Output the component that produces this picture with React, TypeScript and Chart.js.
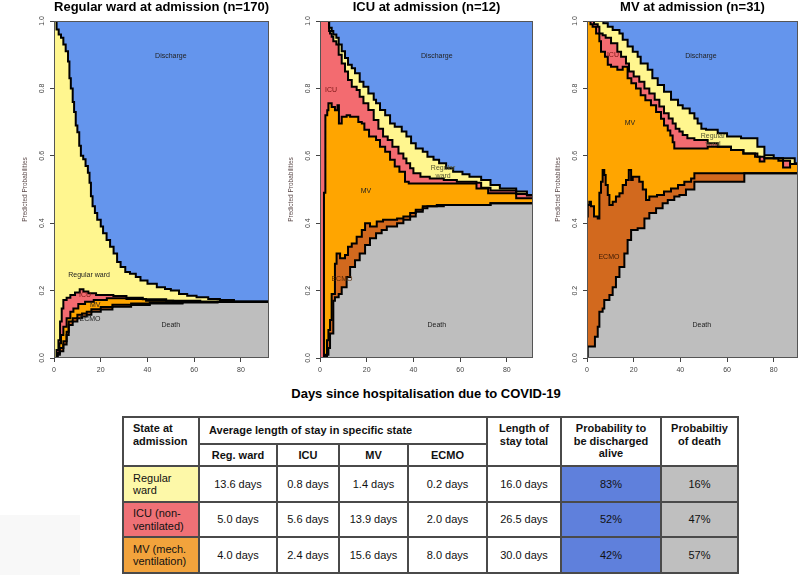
import React, { useEffect, useRef } from "react";
import { Chart, registerables } from "chart.js";
Chart.register(...registerables);

const FONT = '"Liberation Sans", Arial, Helvetica, sans-serif';

// ---------- Panel 1: Regular ward at admission ----------
const wardAdm_deathT = [0, 1.5, 2.5, 4, 5.4, 6.3, 8, 10, 12, 14, 16, 20, 25, 33, 41, 55, 70, 92];
const wardAdm_deathP = [0, 0.01, 0.02, 0.04, 0.068, 0.098, 0.108, 0.118, 0.123, 0.128, 0.137, 0.144, 0.152, 0.157, 0.162, 0.165, 0.166, 0.166];
const wardAdm_ecmoT = [0, 1.5, 2.5, 4, 5.4, 6.3, 8, 10, 12, 14, 16, 20, 25, 33, 41, 55, 70, 92];
const wardAdm_ecmoP = [0, 0.015, 0.03, 0.05, 0.078, 0.108, 0.118, 0.128, 0.132, 0.137, 0.145, 0.151, 0.158, 0.162, 0.165, 0.166, 0.167, 0.167];
const wardAdm_mvT = [0, 1.4, 2.3, 3, 4, 5.4, 7, 8.3, 10.4, 13.3, 17, 22.6, 31, 39.4, 51, 92];
const wardAdm_mvP = [0, 0.014, 0.044, 0.068, 0.093, 0.118, 0.137, 0.147, 0.16, 0.167, 0.172, 0.177, 0.175, 0.17, 0.167, 0.167];
const wardAdm_icuT = [0, 1.1, 1.9, 2.6, 3.3, 4, 5.4, 7, 9, 11, 12.6, 14.7, 18, 25.4, 31, 38, 48, 62.6, 92];
const wardAdm_icuP = [0, 0.024, 0.053, 0.108, 0.147, 0.172, 0.179, 0.187, 0.194, 0.204, 0.197, 0.192, 0.187, 0.184, 0.179, 0.174, 0.17, 0.167, 0.167];
const wardAdm_wardT = [0, 1.1, 2, 3, 4, 5, 6, 6.6, 7.2, 8, 8.6, 9.3, 10, 10.8, 11.5, 12.5, 13.5, 14.5, 15.2, 15.8, 16.5, 17.5, 18.5, 20, 21, 22.5, 24, 25.5, 27, 28.5, 30.5, 32.5, 35, 37, 40, 44, 47.5, 50, 53.5, 57, 61, 66, 71, 77, 92];
const wardAdm_wardP = [1, 0.975, 0.96, 0.95, 0.93, 0.91, 0.88, 0.83, 0.8, 0.76, 0.73, 0.69, 0.67, 0.63, 0.6, 0.59, 0.57, 0.55, 0.52, 0.48, 0.45, 0.43, 0.41, 0.39, 0.37, 0.35, 0.33, 0.31, 0.285, 0.27, 0.255, 0.25, 0.24, 0.23, 0.22, 0.21, 0.205, 0.2, 0.19, 0.185, 0.18, 0.175, 0.172, 0.167, 0.167];

// ---------- Panel 2: ICU at admission ----------
const icuAdm_deathT = [0, 3, 3.6, 4.3, 5.7, 6.4, 8, 9.3, 11.4, 12.9, 15, 17, 19.3, 21.4, 24, 26.4, 28.6, 33, 35.7, 38.6, 41, 44, 46, 53, 73, 92];
const icuAdm_deathP = [0, 0.01, 0.03, 0.073, 0.17, 0.18, 0.19, 0.21, 0.24, 0.27, 0.29, 0.31, 0.335, 0.355, 0.37, 0.38, 0.39, 0.4, 0.41, 0.42, 0.434, 0.444, 0.45, 0.454, 0.459, 0.459];
const icuAdm_ecmoT = [0, 2.1, 3, 3.6, 4.3, 5, 6.4, 7.1, 8.6, 10.7, 12, 13.6, 15.7, 17.9, 19.3, 21.4, 24.3, 27, 33, 35.7, 38.6, 41, 44, 50, 73, 92];
const icuAdm_ecmoP = [0, 0.01, 0.053, 0.083, 0.113, 0.19, 0.28, 0.31, 0.296, 0.306, 0.33, 0.34, 0.36, 0.38, 0.4, 0.39, 0.405, 0.41, 0.414, 0.42, 0.43, 0.44, 0.45, 0.454, 0.459, 0.459];
const icuAdm_mvT = [0, 1.7, 2.3, 3.1, 3.6, 5, 6.4, 7.5, 8.1, 9.3, 11.4, 12.9, 16.4, 17.9, 19, 21, 24, 25.7, 27.9, 30, 32, 34, 36.4, 38, 67, 72, 84, 92];
const icuAdm_mvP = [0, 0.49, 0.72, 0.735, 0.756, 0.745, 0.735, 0.75, 0.696, 0.716, 0.72, 0.716, 0.7, 0.696, 0.677, 0.657, 0.647, 0.627, 0.612, 0.588, 0.568, 0.553, 0.523, 0.518, 0.503, 0.489, 0.474, 0.474];
const icuAdm_icuT = [0, 3.9, 4.3, 5, 5.7, 7, 8, 9.3, 10.7, 12, 13.6, 15.7, 17, 18.6, 20.7, 23, 25, 27, 29, 31, 33.6, 35.7, 37, 38.6, 40, 43, 47, 53, 58.6, 67, 69, 73, 84, 88.6, 92];
const icuAdm_icuP = [1, 0.97, 0.963, 0.953, 0.94, 0.93, 0.9, 0.874, 0.85, 0.825, 0.805, 0.795, 0.775, 0.756, 0.736, 0.706, 0.68, 0.657, 0.647, 0.627, 0.607, 0.592, 0.578, 0.563, 0.548, 0.538, 0.533, 0.528, 0.523, 0.52, 0.505, 0.497, 0.487, 0.482, 0.482];
const icuAdm_wardT = [0, 3.9, 5, 5.7, 7, 8, 9.3, 10.7, 12, 13.6, 15, 17, 18.6, 20.7, 23, 24, 25.7, 27.9, 30, 32, 35, 37, 39, 41, 44, 46, 48.6, 51, 54, 57, 61, 64, 69, 73, 77, 84, 88.6, 92];
const icuAdm_wardP = [1, 0.98, 0.97, 0.96, 0.95, 0.93, 0.91, 0.89, 0.87, 0.86, 0.845, 0.82, 0.805, 0.785, 0.766, 0.756, 0.736, 0.72, 0.696, 0.686, 0.672, 0.657, 0.637, 0.622, 0.612, 0.597, 0.588, 0.578, 0.563, 0.553, 0.545, 0.538, 0.528, 0.513, 0.503, 0.494, 0.484, 0.484];

// ---------- Panel 3: MV at admission ----------
const mvAdm_deathT = [0, 0.3, 3.4, 4.6, 5.3, 6.7, 7.4, 9.6, 11, 12.4, 13.9, 16, 17.4, 18.9, 21.7, 24.6, 26.7, 29.6, 32.4, 34.6, 37.4, 39.6, 42.4, 46, 67.4, 92];
const mvAdm_deathP = [0, 0.034, 0.063, 0.093, 0.137, 0.147, 0.172, 0.187, 0.21, 0.24, 0.27, 0.31, 0.35, 0.38, 0.385, 0.414, 0.43, 0.444, 0.459, 0.469, 0.479, 0.484, 0.5, 0.523, 0.548, 0.548];
const mvAdm_ecmoT = [0, 0.3, 1, 1.7, 3, 4.6, 5.3, 6, 6.7, 7.4, 8, 8.9, 9.6, 11, 12.4, 13.9, 15.3, 16.7, 17.9, 18.9, 19.6, 22.4, 23.9, 25.3, 26.7, 30, 33, 36, 39, 41.7, 44.6, 46, 92];
const mvAdm_ecmoP = [0.42, 0.454, 0.464, 0.45, 0.42, 0.414, 0.49, 0.523, 0.558, 0.543, 0.513, 0.484, 0.454, 0.464, 0.479, 0.489, 0.513, 0.528, 0.558, 0.528, 0.538, 0.523, 0.5, 0.469, 0.479, 0.484, 0.494, 0.503, 0.513, 0.523, 0.533, 0.548, 0.548];
const mvAdm_mvT = [0, 1.5, 2.4, 3.9, 5.3, 6, 7.7, 8.9, 10.3, 13, 15.3, 17.4, 19, 21, 23, 25, 27.4, 29.6, 31.7, 33, 34.6, 35.7, 36.7, 37.4, 51.7, 56, 61.7, 67, 72, 74, 76, 84, 87, 92];
const mvAdm_mvP = [1, 0.99, 0.983, 0.963, 0.94, 0.909, 0.894, 0.87, 0.864, 0.855, 0.864, 0.83, 0.815, 0.8, 0.78, 0.765, 0.75, 0.73, 0.71, 0.69, 0.675, 0.66, 0.64, 0.622, 0.627, 0.627, 0.617, 0.607, 0.597, 0.583, 0.593, 0.565, 0.576, 0.576];
const mvAdm_icuT = [0, 2.4, 3, 4.6, 5.3, 6.7, 8, 10.3, 13, 14.6, 16.7, 18, 20, 22.4, 24.6, 26.7, 29, 31, 33, 35, 36.7, 38, 39.6, 41, 43, 46, 51.7, 56, 61.7, 67, 73, 76, 82, 87, 92];
const mvAdm_icuP = [1, 1, 0.99, 0.983, 0.963, 0.958, 0.95, 0.934, 0.909, 0.894, 0.874, 0.85, 0.835, 0.82, 0.8, 0.785, 0.766, 0.746, 0.726, 0.711, 0.696, 0.68, 0.672, 0.662, 0.652, 0.647, 0.637, 0.627, 0.617, 0.607, 0.597, 0.593, 0.585, 0.576, 0.576];
const mvAdm_wardT = [0, 7, 8.9, 11, 13.9, 15.3, 17.4, 19.6, 21.7, 23, 26, 28, 30.3, 33, 36, 39, 41, 44, 46, 47.4, 49, 51, 56, 60, 66, 73, 76, 80, 89, 92];
const mvAdm_wardP = [1, 0.993, 0.983, 0.973, 0.963, 0.944, 0.924, 0.909, 0.894, 0.874, 0.855, 0.83, 0.81, 0.79, 0.766, 0.75, 0.74, 0.726, 0.711, 0.696, 0.68, 0.677, 0.667, 0.657, 0.652, 0.627, 0.602, 0.593, 0.578, 0.578];

// ---------- Table ----------
const admissionStates = ["Regular\nward", "ICU (non-\nventilated)", "MV (mech.\nventilation)"];
const wardDays = [13.6, 5.0, 4.0];
const icuDays = [0.8, 5.6, 2.4];
const mvDays = [1.4, 13.9, 15.6];
const ecmoDays = [0.2, 2.0, 8.0];
const totalDays = [16.0, 26.5, 30.0];
const dischargeProb = [83, 52, 42];
const deathProb = [16, 47, 57];

const xTicks = [0, 20, 40, 60, 80];
const yTicks = [0, 0.2, 0.4, 0.6, 0.8, 1.0];

const STATE_NAMES = ["Death", "ECMO", "MV", "ICU", "Regular ward", "Discharge"];
const FILLS = ["#BEBEBE", "#D2691E", "#FFA500", "#F36B70", "#FFF68F", "#6495ED"];
const ROW_COLORS = ["#FDF8A8", "#EF7176", "#F2A33C"];

type Label = { text: string; t: number; p: number; color?: string };
type PanelCfg = {
  title: string;
  plotLeft: number;
  plotW: number;
  xMax: number;
  bounds: [number[], number[]][];
  labels: Label[];
};

const panels: PanelCfg[] = [
  {
    title: "Regular ward at admission (n=170)",
    plotLeft: 54,
    plotW: 215,
    xMax: 92,
    bounds: [
      [wardAdm_deathT, wardAdm_deathP],
      [wardAdm_ecmoT, wardAdm_ecmoP],
      [wardAdm_mvT, wardAdm_mvP],
      [wardAdm_icuT, wardAdm_icuP],
      [wardAdm_wardT, wardAdm_wardP],
    ],
    labels: [
      { text: "Discharge", t: 50, p: 0.896 },
      { text: "Regular ward", t: 15, p: 0.246 },
      { text: "ICU", t: 13.3, p: 0.186, color: "#7a1515" },
      { text: "MV", t: 17.6, p: 0.157 },
      { text: "ECMO", t: 15.4, p: 0.116 },
      { text: "Death", t: 50, p: 0.098 },
    ],
  },
  {
    title: "ICU at admission (n=12)",
    plotLeft: 320,
    plotW: 213,
    xMax: 91.2,
    bounds: [
      [icuAdm_deathT, icuAdm_deathP],
      [icuAdm_ecmoT, icuAdm_ecmoP],
      [icuAdm_mvT, icuAdm_mvP],
      [icuAdm_icuT, icuAdm_icuP],
      [icuAdm_wardT, icuAdm_wardP],
    ],
    labels: [
      { text: "Discharge", t: 50, p: 0.896 },
      { text: "ICU", t: 4.7, p: 0.795, color: "#7a1515" },
      { text: "MV", t: 19.7, p: 0.495 },
      { text: "Regular\nward", t: 52.7, p: 0.551, color: "#555533" },
      { text: "ECMO", t: 9.4, p: 0.234, color: "#5a2a05" },
      { text: "Death", t: 50, p: 0.098 },
    ],
  },
  {
    title: "MV at admission (n=31)",
    plotLeft: 587,
    plotW: 211,
    xMax: 90.4,
    bounds: [
      [mvAdm_deathT, mvAdm_deathP],
      [mvAdm_ecmoT, mvAdm_ecmoP],
      [mvAdm_mvT, mvAdm_mvP],
      [mvAdm_icuT, mvAdm_icuP],
      [mvAdm_wardT, mvAdm_wardP],
    ],
    labels: [
      { text: "Discharge", t: 48.8, p: 0.896 },
      { text: "ICU", t: 11.1, p: 0.9, color: "#7a1515" },
      { text: "MV", t: 18.4, p: 0.697 },
      { text: "Regular\nward", t: 54, p: 0.647, color: "#555533" },
      { text: "ECMO", t: 9.4, p: 0.3, color: "#3a1a05" },
      { text: "Death", t: 49.2, p: 0.098 },
    ],
  },
];

const Y_AXIS_W = 44;
const CANVAS_H = 380;
const PLOT_TOP = 21;
const X_AXIS_H = 22;

const panelDecor = {
  id: "panelDecor",
  afterDatasetsDraw(chart: any, _args: any, opts: any) {
    const { ctx, chartArea } = chart;
    const x = chart.scales.x;
    const y = chart.scales.y;
    ctx.save();
    ctx.strokeStyle = "#555";
    ctx.lineWidth = 1;
    ctx.strokeRect(chartArea.left + 0.5, chartArea.top + 0.5, chartArea.width - 1, chartArea.height - 1);
    ctx.font = `7px ${FONT}`;
    ctx.textAlign = "center";
    ctx.textBaseline = "middle";
    for (const l of opts.labels as Label[]) {
      const lines = l.text.split("\n");
      const px = x.getPixelForValue(l.t);
      const py = y.getPixelForValue(l.p);
      ctx.fillStyle = l.color || "#222";
      lines.forEach((ln, i) => {
        ctx.fillText(ln, px, py + (i - (lines.length - 1) / 2) * 8);
      });
    }
    ctx.restore();
  },
  afterDraw(chart: any) {
    const { ctx, chartArea } = chart;
    const y = chart.scales.y;
    ctx.save();
    ctx.fillStyle = "#444";
    ctx.font = `7px ${FONT}`;
    ctx.textAlign = "center";
    ctx.textBaseline = "middle";
    for (const v of yTicks) {
      const py = y.getPixelForValue(v);
      ctx.save();
      ctx.translate(chartArea.left - 12, py);
      ctx.rotate(-Math.PI / 2);
      ctx.fillText(v.toFixed(1), 0, 0);
      ctx.restore();
    }
    ctx.save();
    ctx.fillStyle = "#5a4848";
    ctx.font = `6.5px ${FONT}`;
    ctx.translate(chartArea.left - 29, (chartArea.top + chartArea.bottom) / 2);
    ctx.rotate(-Math.PI / 2);
    ctx.fillText("Predicted Probabilities", 0, 0);
    ctx.restore();
    ctx.restore();
  },
};

function Panel({ cfg }: { cfg: PanelCfg }) {
  const ref = useRef<HTMLCanvasElement>(null);
  const W = Y_AXIS_W + cfg.plotW + 3;
  useEffect(() => {
    const datasets: any[] = cfg.bounds.map((b, i) => ({
      label: STATE_NAMES[i],
      data: b[0].map((t, j) => ({ x: t, y: b[1][j] })),
      stepped: true,
      fill: "origin",
      backgroundColor: FILLS[i],
      borderColor: "#000",
      borderWidth: 2,
      pointRadius: 0,
      order: i,
    }));
    datasets.push({
      label: STATE_NAMES[5],
      data: [
        { x: 0, y: 1 },
        { x: cfg.xMax, y: 1 },
      ],
      stepped: true,
      fill: "origin",
      backgroundColor: FILLS[5],
      borderColor: "rgba(0,0,0,0)",
      borderWidth: 0,
      pointRadius: 0,
      order: 5,
    });
    const chart = new Chart(ref.current!, {
      type: "line",
      data: { datasets },
      options: {
        responsive: false,
        animation: false,
        devicePixelRatio: 1,
        layout: { padding: { top: PLOT_TOP, right: 3, left: 0, bottom: 0 } },
        plugins: {
          legend: { display: false },
          tooltip: { enabled: false },
          filler: { drawTime: "beforeDatasetsDraw" },
          panelDecor: { labels: cfg.labels },
        } as any,
        scales: {
          x: {
            type: "linear",
            min: 0,
            max: cfg.xMax,
            afterFit: (s: any) => {
              s.height = X_AXIS_H;
            },
            afterBuildTicks: (s: any) => {
              s.ticks = xTicks.map((v) => ({ value: v }));
            },
            ticks: {
              font: { size: 7, family: FONT },
              color: "#444",
              padding: 4,
              maxRotation: 0,
              minRotation: 0,
              autoSkip: false,
            },
            grid: { drawOnChartArea: false, drawTicks: true, tickLength: 4, color: "#444" },
            border: { display: false },
          },
          y: {
            type: "linear",
            min: 0,
            max: 1,
            afterFit: (s: any) => {
              s.width = Y_AXIS_W;
            },
            afterBuildTicks: (s: any) => {
              s.ticks = yTicks.map((v) => ({ value: v }));
            },
            ticks: { display: false },
            grid: { drawOnChartArea: false, drawTicks: true, tickLength: 4, color: "#444" },
            border: { display: false },
          },
        },
      } as any,
      plugins: [panelDecor as any],
    });
    return () => chart.destroy();
  }, []);
  return (
    <>
      <canvas
        ref={ref}
        width={W}
        height={CANVAS_H}
        style={{ position: "absolute", left: cfg.plotLeft - Y_AXIS_W, top: 0, width: W, height: CANVAS_H }}
      />
      <div
        style={{
          position: "absolute",
          left: cfg.plotLeft + cfg.plotW / 2 - 150,
          top: -1,
          width: 300,
          textAlign: "center",
          font: `bold 13px ${FONT}`,
          lineHeight: "15px",
          color: "#000",
          whiteSpace: "nowrap",
        }}
      >
        {cfg.title}
      </div>
    </>
  );
}

const colX = [123, 199, 277, 339, 408, 487, 561, 661, 738];
const rowY = [417, 444, 466, 502, 537, 573];

function Cell(props: {
  x1: number;
  y1: number;
  x2: number;
  y2: number;
  text: string;
  bold?: boolean;
  align?: "left" | "center";
  valign?: "top" | "middle";
  bg?: string;
  size?: number;
}) {
  const { x1, y1, x2, y2, text, bold, align = "center", valign = "middle", bg = "#fff", size = 11 } = props;
  return (
    <div
      style={{
        position: "absolute",
        left: x1 - 1,
        top: y1 - 1,
        width: x2 - x1 + 2,
        height: y2 - y1 + 2,
        boxSizing: "border-box",
        border: "2px solid #4a4a4a",
        background: bg,
        display: "flex",
        flexDirection: "column",
        justifyContent: valign === "top" ? "flex-start" : "center",
        alignItems: align === "left" ? "flex-start" : "center",
        padding: align === "left" ? "0 0 0 9px" : 0,
        paddingTop: valign === "top" ? 4 : 0,
        font: `${bold ? "bold " : ""}${size}px ${FONT}`,
        lineHeight: "12.5px",
        whiteSpace: "pre-line",
        textAlign: align,
        color: "#111",
      }}
    >
      {text}
    </div>
  );
}

function Table() {
  const cells: any[] = [];
  const H = { bold: true };
  cells.push(<Cell key="h0" x1={colX[0]} y1={rowY[0]} x2={colX[1]} y2={rowY[2]} text={"State at\nadmission"} align="left" valign="top" {...H} />);
  cells.push(<Cell key="h1" x1={colX[1]} y1={rowY[0]} x2={colX[5]} y2={rowY[1]} text="Average length of stay in specific state" align="left" {...H} />);
  ["Reg. ward", "ICU", "MV", "ECMO"].forEach((s, i) =>
    cells.push(<Cell key={"s" + i} x1={colX[1 + i]} y1={rowY[1]} x2={colX[2 + i]} y2={rowY[2]} text={s} {...H} />)
  );
  cells.push(<Cell key="h5" x1={colX[5]} y1={rowY[0]} x2={colX[6]} y2={rowY[2]} text={"Length of\nstay total"} valign="top" {...H} />);
  cells.push(<Cell key="h6" x1={colX[6]} y1={rowY[0]} x2={colX[7]} y2={rowY[2]} text={"Probability to\nbe discharged\nalive"} valign="top" {...H} />);
  cells.push(<Cell key="h7" x1={colX[7]} y1={rowY[0]} x2={colX[8]} y2={rowY[2]} text={"Probabiltiy\nof death"} valign="top" {...H} />);
  admissionStates.forEach((st, r) => {
    const y1 = rowY[2 + r];
    const y2 = rowY[3 + r];
    const vals = [
      `${wardDays[r].toFixed(1)} days`,
      `${icuDays[r].toFixed(1)} days`,
      `${mvDays[r].toFixed(1)} days`,
      `${ecmoDays[r].toFixed(1)} days`,
      `${totalDays[r].toFixed(1)} days`,
      `${dischargeProb[r]}%`,
      `${deathProb[r]}%`,
    ];
    cells.push(<Cell key={"r" + r} x1={colX[0]} y1={y1} x2={colX[1]} y2={y2} text={st} align="left" bg={ROW_COLORS[r]} />);
    vals.forEach((v, c) =>
      cells.push(
        <Cell
          key={`c${r}_${c}`}
          x1={colX[1 + c]}
          y1={y1}
          x2={colX[2 + c]}
          y2={y2}
          text={v}
          bg={c === 5 ? "#5F80DC" : c === 6 ? "#BFBFBF" : "#fff"}
        />
      )
    );
  });
  return <>{cells}</>;
}

export default function App() {
  return (
    <div
      style={{
        position: "absolute",
        left: 0,
        top: 0,
        width: 800,
        height: 575,
        background: "#fff",
        overflow: "hidden",
        fontFamily: FONT,
      }}
    >
      <div style={{ position: "absolute", left: 0, top: 515, width: 80, height: 60, background: "#f8f8f8" }} />
      {panels.map((p, i) => (
        <Panel key={i} cfg={p} />
      ))}
      <div
        style={{
          position: "absolute",
          left: 226,
          top: 386,
          width: 400,
          textAlign: "center",
          font: `bold 13px ${FONT}`,
          lineHeight: "16px",
          color: "#000",
        }}
      >
        Days since hospitalisation due to COVID-19
      </div>
      <Table />
    </div>
  );
}
